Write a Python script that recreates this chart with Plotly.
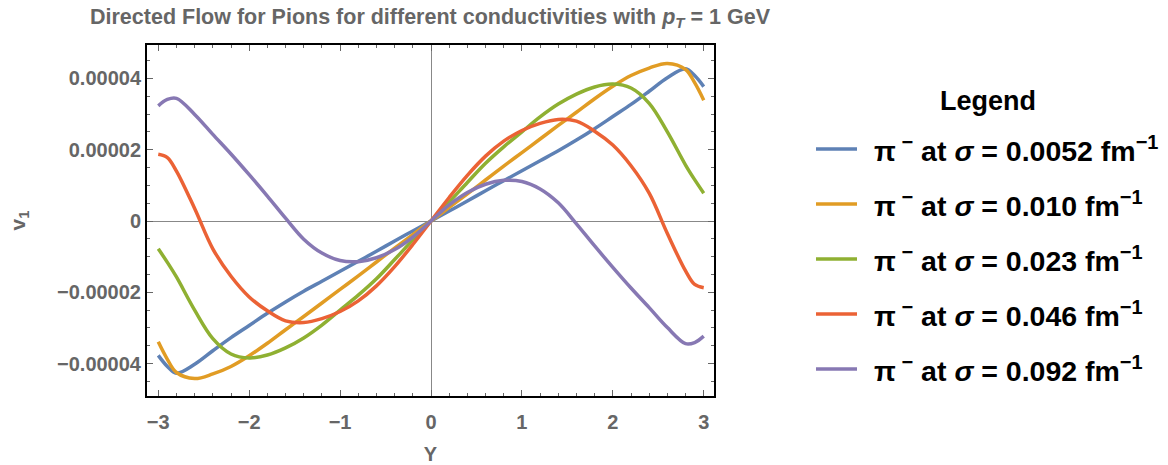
import plotly.graph_objects as go

# Rapidity grid and directed flow v1 (in units of 1e-5) for each conductivity
rapidity = [-3.0, -2.9, -2.8, -2.6, -2.4, -2.2, -2.0, -1.8, -1.6, -1.4, -1.2, -1.0,
            -0.8, -0.6, -0.4, -0.2, 0.0, 0.2, 0.4, 0.6, 0.8, 1.0, 1.2, 1.4,
            1.6, 1.8, 2.0, 2.2, 2.4, 2.6, 2.8, 2.9, 3.0]

v1_s0052 = [-3.77, -4.08, -4.27, -4.02, -3.64, -3.27, -2.93, -2.59, -2.27, -1.97, -1.69, -1.41,
            -1.13, -0.85, -0.56, -0.28, 0.0, 0.28, 0.56, 0.85, 1.13, 1.41, 1.69, 1.97,
            2.27, 2.59, 2.93, 3.27, 3.64, 4.02, 4.27, 4.08, 3.77]
v1_s010 = [-3.39, -3.88, -4.25, -4.42, -4.29, -4.08, -3.78, -3.43, -3.05, -2.68, -2.30, -1.92,
           -1.54, -1.15, -0.76, -0.38, 0.0, 0.38, 0.76, 1.15, 1.54, 1.92, 2.30, 2.68,
           3.05, 3.43, 3.78, 4.08, 4.29, 4.42, 4.25, 3.88, 3.39]
v1_s023 = [-0.78, -1.16, -1.57, -2.50, -3.30, -3.73, -3.84, -3.76, -3.56, -3.28, -2.92, -2.50,
           -2.08, -1.62, -1.08, -0.53, 0.0, 0.53, 1.08, 1.62, 2.08, 2.50, 2.92, 3.28,
           3.56, 3.76, 3.84, 3.73, 3.30, 2.50, 1.57, 1.16, 0.78]
v1_s046 = [1.87, 1.78, 1.40, 0.35, -0.78, -1.55, -2.13, -2.52, -2.80, -2.85, -2.74, -2.54,
           -2.24, -1.82, -1.28, -0.66, 0.0, 0.66, 1.28, 1.82, 2.24, 2.54, 2.74, 2.85,
           2.80, 2.52, 2.13, 1.55, 0.78, -0.35, -1.40, -1.78, -1.87]
v1_s092 = [3.23, 3.41, 3.44, 2.99, 2.43, 1.88, 1.30, 0.70, 0.08, -0.51, -0.90, -1.11,
           -1.14, -1.03, -0.80, -0.45, 0.0, 0.45, 0.80, 1.03, 1.14, 1.11, 0.90, 0.51,
           -0.08, -0.70, -1.30, -1.88, -2.43, -2.99, -3.44, -3.41, -3.23]

series = [
    ("0.0052", v1_s0052, "#5E81B5"),
    ("0.010", v1_s010, "#E19C24"),
    ("0.023", v1_s023, "#8FB032"),
    ("0.046", v1_s046, "#EB6235"),
    ("0.092", v1_s092, "#8778B3"),
]

x_ticks = [-3, -2, -1, 0, 1, 2, 3]
x_ticktext = ["\u22123", "\u22122", "\u22121", "0", "1", "2", "3"]
y_ticks = [-4e-5, -2e-5, 0, 2e-5, 4e-5]
y_ticktext = ["\u22120.00004", "\u22120.00002", "0", "0.00002", "0.00004"]

FONT = "Liberation Sans, Arial, Helvetica, sans-serif"
GRAY = "#666666"

fig = go.Figure()
for sigma, vals, color in series:
    fig.add_trace(go.Scatter(
        x=rapidity,
        y=[v * 1e-5 for v in vals],
        mode="lines",
        line=dict(color=color, width=3.5, shape="spline", smoothing=1.0),
        name=f"\u03c0<sup>\u2212</sup> at \u03c3 = {sigma} fm<sup>\u22121</sup>",
        showlegend=False,
    ))

# Hand-built legend to the right of the frame
L, R, T, B = 147, 714, 45, 396
W, H = R - L, B - T


def px(xp):
    return (xp - L) / W


def py(yp):
    return (B - yp) / H


row_y = [149, 204, 259, 314, 369]
shapes = []
annotations = [dict(
    text="<b>Legend</b>", x=px(988), y=py(101), xref="paper", yref="paper",
    showarrow=False, xanchor="center", yanchor="middle",
    font=dict(family=FONT, size=27, color="black"),
)]
for (sigma, vals, color), ry in zip(series, row_y):
    shapes.append(dict(type="line", xref="paper", yref="paper",
                       x0=px(816), x1=px(857), y0=py(ry), y1=py(ry),
                       line=dict(color=color, width=3.5)))
    annotations.append(dict(
        text=f"<b>\u03c0\u2009<sup>\u2212</sup> at <i>\u03c3</i> = {sigma} fm<sup>\u22121</sup></b>",
        x=px(873), y=py(ry), xref="paper", yref="paper", showarrow=False,
        xanchor="left", yanchor="middle", borderpad=0,
        font=dict(family=FONT, size=28.5, color="black"),
    ))

axis_common = dict(
    showline=True, linecolor="black", linewidth=2, mirror="allticks",
    ticks="inside", ticklen=6, tickwidth=1, tickcolor=GRAY,
    showgrid=False, zeroline=True, zerolinecolor="#888888", zerolinewidth=1,
    automargin=False,
    tickfont=dict(family=FONT, size=20, color=GRAY, weight="bold"),
)

fig.update_layout(
    width=1168, height=465,
    margin=dict(l=L, r=1168 - R, t=T, b=465 - B, autoexpand=False),
    paper_bgcolor="white", plot_bgcolor="white",
    title=dict(
        text="<b>Directed Flow for Pions for different conductivities with <i>p</i><sub><i>T</i></sub> = 1 GeV</b>",
        x=430 / 1168, xanchor="center", y=1 - 16 / 465, yanchor="middle",
        font=dict(family=FONT, size=21.5, color=GRAY),
    ),
    xaxis=dict(
        range=[-3.124, 3.113], tickmode="array", tickvals=x_ticks, ticktext=x_ticktext,
        ticklabelstandoff=7,
        minor=dict(tickmode="linear", tick0=0, dtick=0.2, ticks="inside", ticklen=3,
                   tickcolor=GRAY, tickwidth=1),
        title=dict(text="<b>Y</b>", font=dict(family=FONT, size=20, color=GRAY), standoff=18),
        **axis_common,
    ),
    yaxis=dict(
        range=[-4.909e-5, 4.937e-5], tickmode="array", tickvals=y_ticks, ticktext=y_ticktext,
        minor=dict(tickmode="linear", tick0=0, dtick=5e-6, ticks="inside", ticklen=3,
                   tickcolor=GRAY, tickwidth=1),
        title=dict(text="<b>v<sub>1</sub></b>", font=dict(family=FONT, size=21, color=GRAY), standoff=26),
        **axis_common,
    ),
    shapes=shapes,
    annotations=annotations,
)

fig.write_html("out.html")
